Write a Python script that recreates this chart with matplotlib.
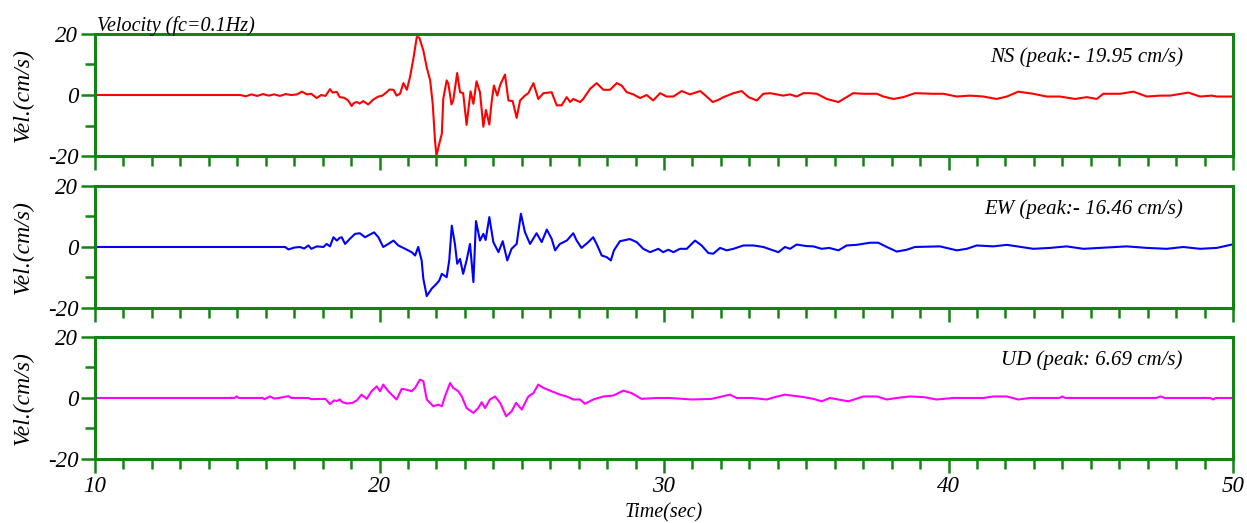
import matplotlib
matplotlib.use("Agg")
import matplotlib.pyplot as plt
import numpy as np

ns_t = [10, 15.1, 15.3, 15.5, 15.7, 15.9, 16.1, 16.3, 16.5, 16.7, 16.9, 17.1, 17.27, 17.45, 17.6, 17.79,
        17.95, 18.1, 18.26, 18.35, 18.5, 18.6, 18.75, 18.9, 19.02, 19.1, 19.2, 19.3, 19.43, 19.6, 19.78,
        19.96, 20.1, 20.25, 20.35, 20.49, 20.6, 20.72, 20.84, 20.96, 21.07, 21.19, 21.31, 21.4, 21.54,
        21.66, 21.78, 21.87, 21.95, 22.0, 22.1, 22.19, 22.24, 22.36, 22.42, 22.53, 22.59, 22.73, 22.83,
        22.94, 23.06, 23.2, 23.3, 23.41, 23.53, 23.65, 23.74, 23.86, 23.94, 24.02, 24.14, 24.24, 24.41,
        24.53, 24.68, 24.82, 24.94, 25.11, 25.23, 25.41, 25.58, 25.76, 26.05, 26.23, 26.4, 26.58, 26.7,
        26.81, 27.05, 27.16, 27.4, 27.63, 27.87, 28.1, 28.34, 28.51, 28.69, 28.92, 29.16, 29.39, 29.62,
        29.86, 30.09, 30.33, 30.62, 30.91, 31.27, 31.5, 31.71, 31.91, 32.09, 32.44, 32.73, 32.97, 33.26,
        33.49, 33.73, 34.19, 34.43, 34.66, 34.9, 35.13, 35.37, 35.72, 36.13, 36.42, 36.65, 37.01, 37.48,
        37.71, 38.06, 38.41, 38.82, 39.47, 39.82, 40.29, 40.76, 41.22, 41.69, 42.05, 42.45, 42.98, 43.45,
        43.92, 44.45, 44.86, 45.21, 45.44, 46.03, 46.5, 46.97, 47.43, 47.79, 48.43, 48.84, 49.25, 49.43, 50]
ns_v = [0, 0, -0.4, 0.2, -0.3, 0.3, -0.2, 0.2, -0.3, 0.3, 0.0, 0.2, 1.1, 0.2, 0.4, -1.0,
        0.0, -0.3, 1.9, 0.8, 1.0, -0.7, -0.9, -1.8, -3.6, -2.6, -2.3, -2.8, -2.0, -3.1, -1.5,
        -0.5, -0.2, 0.9, 1.8, 1.7, -0.2, 0.4, 3.9, 1.7, 5.8, 11.9, 19.0, 18.8, 14.6,
        9.0, 4.8, -2.9, -14.9, -19.9, -16.0, -12.7, -1.3, 4.8, 3.7, -3.1, -1.8, 7.2, 0.9,
        0.6, -9.8, 1.2, -2.9, 4.5, 0.9, -10.4, -4.9, -9.7, -2.3, 3.1, -0.2, 3.3, 6.7,
        -1.8, -2.0, -7.5, -1.8, -0.2, 0.6, 3.9, -1.3, 0.6, 0.9, -3.4, -3.4, -0.7, -2.3,
        -1.3, -2.3, -1.3, 2.0, 3.9, 1.7, 1.7, 3.9, 3.1, 0.9, 0.2, -1.0, 0.0, -1.8,
        0.6, -0.5, -0.5, 1.3, 0.2, 1.3, -0.5, -2.3, -1.6, -0.7, 0.6, 1.3, -0.7, -1.8,
        0.4, 0.6, -0.2, 0.2, -0.5, 0.6, 0.6, 0.4, -1.3, -2.3, -0.7, 0.6, 0.4, 0.4,
        -0.5, -1.3, -0.7, 0.6, 0.4, 0.4, -0.5, -0.2, -0.5, -1.3, -0.5, 1.1, 0.4, -0.5,
        -0.5, -1.3, -0.7, -1.3, 0.4, 0.4, 1.1, -0.5, -0.2, -0.2, 0.8, -0.5, -0.2, -0.5, -0.5]

ew_t = [10, 16.68, 16.8, 17.0, 17.2, 17.35, 17.5, 17.6, 17.8, 18.03, 18.14, 18.26, 18.38, 18.5, 18.6,
        18.67, 18.79, 18.96, 19.14, 19.31, 19.49, 19.67, 19.81, 19.96, 20.13, 20.31, 20.49, 20.66, 20.9,
        21.13, 21.25, 21.36, 21.48, 21.54, 21.66, 21.83, 22.0, 22.1, 22.19, 22.36, 22.45, 22.54, 22.65,
        22.73, 22.83, 22.94, 23.06, 23.18, 23.3, 23.39, 23.53, 23.65, 23.73, 23.86, 24.0, 24.18, 24.33,
        24.49, 24.64, 24.82, 24.97, 25.11, 25.29, 25.52, 25.7, 25.88, 26.05, 26.17, 26.34, 26.58, 26.81,
        26.93, 27.1, 27.34, 27.51, 27.63, 27.81, 27.98, 28.13, 28.24, 28.45, 28.8, 29.04, 29.27, 29.51,
        29.8, 29.97, 30.15, 30.33, 30.56, 30.8, 31.09, 31.32, 31.56, 31.73, 31.97, 32.2, 32.44, 32.79,
        33.14, 33.49, 33.84, 34.02, 34.25, 34.43, 34.66, 35.0, 35.25, 35.54, 35.8, 36.13, 36.42, 36.77,
        37.24, 37.53, 37.83, 38.18, 38.53, 38.82, 39.7, 40.29, 40.64, 40.99, 41.57, 42.05, 42.4, 42.98,
        43.57, 44.15, 44.74, 45.33, 46.26, 46.97, 47.67, 48.25, 48.84, 49.43, 49.96]
ew_v = [0, 0, -0.8, -0.2, 0.0, -0.5, 0.5, -0.6, 0.2, 0.0, 1.0, 0.2, 3.2, 2.1, 3.0,
        3.2, 1.0, 2.7, 4.3, 4.5, 3.2, 4.1, 4.8, 3.2, 0.0, 1.0, 2.1, 0.5, -0.6,
        -1.7, -2.8, 0.0, -4.4, -10.4, -16.1, -13.7, -12.1, -11.0, -8.8, -9.9, -4.4, 7.0, 1.0,
        -5.5, -3.9, -8.8, -4.4, 1.0, -11.5, 8.5, 2.1, 4.3, 2.3, 9.8, 1.6, -1.7, 1.9,
        -4.4, -0.6, 1.0, 10.9, 4.9, 1.0, 4.5, 1.6, 5.7, 2.7, -1.1, 1.0, 2.1, 4.5,
        2.1, -0.3, 1.6, 3.2, 1.0, -2.8, -3.3, -4.4, -1.1, 1.9, 2.6, 1.6, -0.6, -1.7,
        -0.6, -1.7, -0.9, -1.7, -0.6, -0.6, 2.1, 0.5, -2.0, -2.2, -0.3, -1.1, -0.6, 0.5,
        0.5, 0.0, -1.1, -1.7, 0.0, -0.6, 0.8, 0.3, 0.2, -0.6, -0.3, -1.1, 0.5, 0.7,
        1.4, 1.4, 0.0, -1.5, -0.9, 0.0, 0.2, -1.1, -0.6, 0.5, 0.2, 0.7, 0.2, -0.6,
        -0.3, 0.2, -0.6, -0.3, 0.2, -0.3, -0.6, 0.0, -0.6, -0.3, 0.8]

ud_t = [10, 14.9, 14.98, 15.05, 15.9, 15.95, 16.15, 16.3, 16.45, 16.8, 16.9, 17.5, 17.6, 18.1, 18.26,
        18.4, 18.5, 18.6, 18.7, 18.85, 19.05, 19.2, 19.37, 19.55, 19.72, 19.9, 20.02, 20.13, 20.31, 20.49,
        20.6, 20.78, 20.96, 21.13, 21.25, 21.42, 21.54, 21.66, 21.89, 22.07, 22.19, 22.3, 22.48, 22.59,
        22.77, 22.89, 23.06, 23.3, 23.47, 23.59, 23.71, 23.88, 24.06, 24.24, 24.45, 24.64, 24.8, 25.0,
        25.23, 25.41, 25.58, 25.76, 26.05, 26.34, 26.58, 26.81, 27.05, 27.22, 27.51, 27.87, 28.22, 28.57,
        28.86, 29.21, 29.74, 30.21, 30.97, 31.67, 32.32, 32.55, 33.08, 33.61, 33.9, 34.25, 34.9, 35.25,
        35.54, 35.83, 36.48, 37.01, 37.48, 37.83, 38.18, 38.65, 39.12, 39.58, 40.17, 41.22, 41.57, 42.05,
        42.45, 42.86, 43.9, 44.0, 44.1, 47.3, 47.45, 47.6, 49.2, 49.3, 49.4, 50]
ud_v = [0, 0, 0.5, 0, 0, -0.4, 0.5, -0.2, 0, 0.6, 0, 0, -0.4, -0.3, -2.0,
        -0.8, -1.0, -0.5, -1.4, -1.8, -1.6, -0.8, 1.1, -0.3, 2.2, 3.8, 2.2, 4.4, 2.2, 0.5,
        -0.5, 3.0, 2.7, 2.2, 3.3, 6.0, 5.5, -0.5, -2.7, -2.2, -2.7, 0.5, 4.9, 3.3,
        2.2, 0.5, -3.3, -4.9, -3.3, -1.4, -3.3, -0.5, 0.5, -1.6, -6.0, -4.4, -1.6, -3.8,
        0.5, 1.6, 4.4, 3.3, 2.2, 1.1, 0.5, -0.5, -0.5, -1.9, -0.5, 0.5, 0.8, 2.4,
        1.6, -0.3, 0.0, 0.0, -0.5, -0.3, 1.1, 0.0, 0.0, -0.5, 0.3, 1.1, 0.3, -0.3,
        -1.1, 0.0, -1.1, 0.5, 0.5, -0.5, 0.0, 0.5, 0.3, -0.5, 0.0, 0.0, 0.5, 0.5,
        -0.5, 0.0, 0.0, 0.5, 0.0, 0.0, 0.5, 0.0, 0.0, -0.5, 0.0, 0.0]

labels = ["NS (peak:- 19.95 cm/s)", "EW (peak:- 16.46 cm/s)", "UD (peak: 6.69 cm/s)"]
colors = ["#ff0000", "#0000ff", "#ff00ff"]
frame = "#138413"
serif = ["Liberation Serif", "DejaVu Serif"]

plt.rcParams['axes.unicode_minus'] = False

fig = plt.figure(figsize=(12.47, 5.23), dpi=100)
bottoms = [0.7017, 0.4111, 0.1224]
series = [(ns_t, ns_v), (ew_t, ew_v), (ud_t, ud_v)]

for i, (b, (t, v)) in enumerate(zip(bottoms, series)):
	ax = fig.add_axes([0.0762, b, 0.9126, 0.2333])
	ax.plot(t, v, color=colors[i], lw=1.5, clip_on=False)
	ax.set_xlim(10, 50)
	ax.set_ylim(-20, 20)
	ax.set_xticks([10, 20, 30, 40, 50])
	ax.set_xticks(np.arange(10, 51, 1), minor=True)
	ax.set_yticks([-20, 0, 20])
	ax.set_yticks([-10, 10], minor=True)
	for s in ax.spines.values():
		s.set_color(frame)
		s.set_linewidth(2.2)
	ax.tick_params(which='major', length=10, width=1.8, color=frame, pad=2)
	ax.tick_params(which='minor', length=7, width=1.8, color=frame)
	ax.tick_params(axis='x', pad=2.5)
	for lab in ax.get_yticklabels():
		lab.set_fontfamily(serif); lab.set_fontstyle('italic'); lab.set_fontsize(16.5)
	if i < 2:
		ax.set_xticklabels([])
	else:
		for lab in ax.get_xticklabels():
			lab.set_fontfamily(serif); lab.set_fontstyle('italic'); lab.set_fontsize(16.5)
		ax.set_xlabel("Time(sec)", family=serif, style='italic', fontsize=14.5, labelpad=4)
	ax.set_ylabel("Vel.(cm/s)", family=serif, style='italic', fontsize=17)
	ax.yaxis.set_label_coords(-0.054, 0.5)
	ax.text(0.956, 0.81, labels[i], transform=ax.transAxes, ha='right', va='center',
			family=serif, style='italic', fontsize=15)

fig.text(97 / 1247, 1 - 31 / 523, "Velocity (fc=0.1Hz)", family=serif, style='italic',
		 fontsize=14.5, va='baseline', ha='left')

fig.savefig("out.png", dpi=100)
